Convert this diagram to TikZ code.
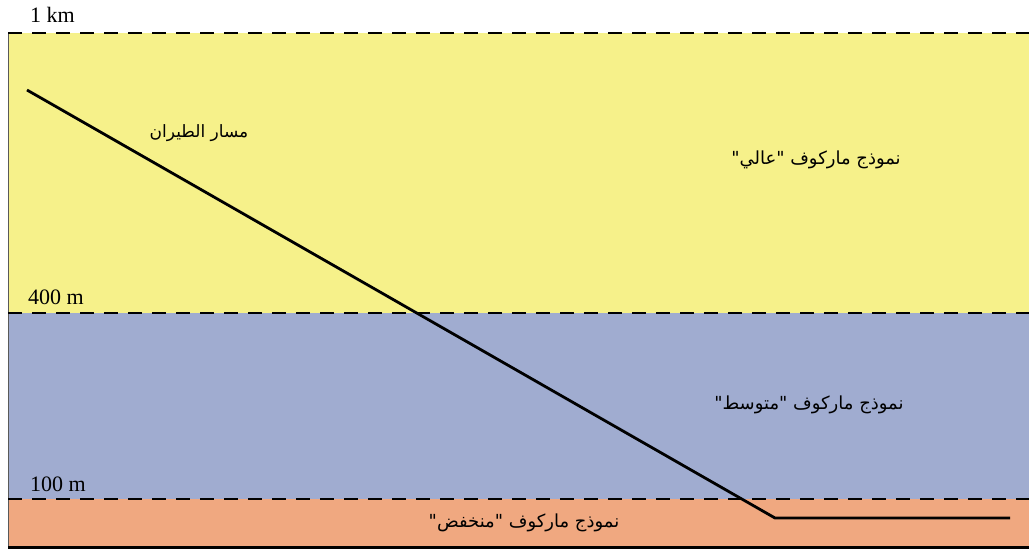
\documentclass[tikz,border=0pt]{standalone}
\usepackage{fontspec}
\setmainfont{Liberation Serif}
\newfontfamily\arabicfont[Script=Arabic]{DejaVu Sans}
\TeXXeTstate=1
\definecolor{highc}{RGB}{246,241,138}
\definecolor{midc}{RGB}{160,172,208}
\definecolor{lowc}{RGB}{240,168,128}
\tikzset{
  boundary/.style={line width=2pt, dash pattern=on 14pt off 10pt},
  lvl/.style={font=\fontsize{22}{25}\selectfont, anchor=base west, inner sep=0pt},
  ar/.style={font=\arabicfont\fontsize{18}{21}\selectfont, inner sep=0pt},
  path/.style={line width=2.8pt, line join=miter}
}
\begin{document}
\begin{tikzpicture}[x=1pt,y=-1pt]
\useasboundingbox (0,0) rectangle (1029,550);
\fill[white] (0,0) rectangle (1029,550);
% layers
\fill[highc] (8,33) rectangle (1029,313);
\fill[midc] (8,313) rectangle (1029,499);
\fill[lowc] (8,499) rectangle (1029,546);
% left border and bottom line
\draw[gray!70!black, line width=1pt] (8,33) -- (8,547);
\draw[black, line width=3pt] (8,547) -- (1029,547);
% boundaries
\draw[boundary] (8,33) -- (1029,33);
\draw[boundary] (8,313) -- (1029,313);
\draw[boundary] (8,499) -- (1029,499);
% level labels
\node[lvl] (km) at (30,22) {1 km};
\node[lvl] (m400) at (28,304) {400 m};
\node[lvl] (m100) at (30,491) {100 m};
% flight path
\coordinate (p0) at (27,90);
\coordinate (p1) at (775,518);
\coordinate (p2) at (1010,518);
\draw[path] (p0) -- (p1) -- (p2);
% labels
\node[ar, font=\arabicfont\fontsize{17}{20}\selectfont] (fp) at (199,133) {\beginR مسار الطيران\endR};
\node[ar] (hi) at (816,160) {\beginR نموذج ماركوف "عالي"\endR};
\node[ar] (md) at (809,405) {\beginR نموذج ماركوف "متوسط"\endR};
\node[ar] (lo) at (524,523) {\beginR نموذج ماركوف "منخفض"\endR};
\end{tikzpicture}
\end{document}
